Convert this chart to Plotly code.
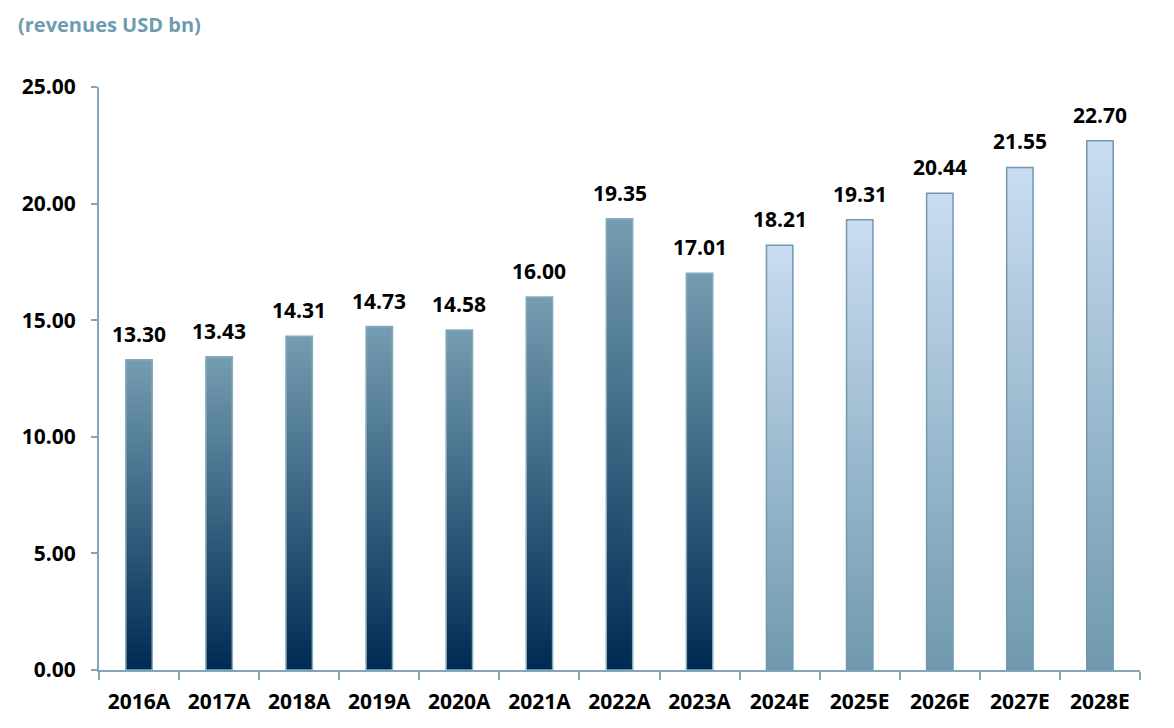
import plotly.graph_objects as go

# revenue per year, actuals then estimates
years = ['2016A', '2017A', '2018A', '2019A', '2020A', '2021A', '2022A',
         '2023A', '2024E', '2025E', '2026E', '2027E', '2028E']
revenues = [13.30, 13.43, 14.31, 14.73, 14.58, 16.00, 19.35,
            17.01, 18.21, 19.31, 20.44, 21.55, 22.70]
y_ticks = [0, 5, 10, 15, 20, 25]

half_w = 0.165
axis_col = '#7fa6b9'

fig = go.Figure()

for i, (yr, val) in enumerate(zip(years, revenues)):
    if yr.endswith('A'):
        scale = [[0, '#002a52'], [1, '#749db1']]
        line_col = '#86abbe'
    else:
        scale = [[0, '#7099ad'], [1, '#c9dcf2']]
        line_col = '#7099ad'
    fig.add_trace(go.Scatter(
        x=[i - half_w, i - half_w, i + half_w, i + half_w, i - half_w],
        y=[0, val, val, 0, 0],
        mode='lines', fill='toself',
        fillgradient=dict(type='vertical', colorscale=scale),
        line=dict(color=line_col, width=1.5),
        hoverinfo='skip', showlegend=False))

# value labels above bars
labels = [dict(x=i, y=v, text=f'<b>{v:.2f}</b>', showarrow=False,
               xanchor='center', yanchor='bottom', yshift=10,
               font=dict(size=21, color='black'))
          for i, v in enumerate(revenues)]

labels.append(dict(text='<b>(revenues USD bn)</b>', xref='paper', yref='paper',
                   x=-0.08, y=1.107, xanchor='left', yanchor='middle',
                   showarrow=False, font=dict(size=20, color='#6f9bb0')))

# note: the page body adds an 8px offset, margins are corrected for that
fig.update_layout(
    width=1174, height=728,
    plot_bgcolor='white', paper_bgcolor='white',
    margin=dict(l=91, r=42, t=79, b=66),
    font=dict(family='Open Sans', size=21, color='black'),
    annotations=labels,
)

fig.update_xaxes(
    range=[-0.5, len(years) - 0.5],
    tickvals=list(range(len(years))), ticktext=[f'<b>{y}</b>' for y in years],
    ticks='', showgrid=False, zeroline=False, automargin=False,
    showline=True, linecolor=axis_col, linewidth=2,
    tickfont=dict(size=21), ticklabelstandoff=12,
    minor=dict(tick0=-0.5, dtick=1, ticks='outside', ticklen=8,
               tickcolor=axis_col, tickwidth=2, showgrid=False),
)
fig.update_yaxes(
    range=[0, 25], tickvals=y_ticks,
    ticktext=[f'<b>{t:.2f}</b>' for t in y_ticks],
    ticks='outside', ticklen=6, tickcolor=axis_col, tickwidth=2,
    showgrid=False, zeroline=False, automargin=False,
    showline=True, linecolor=axis_col, linewidth=2,
    tickfont=dict(size=21), ticklabelstandoff=11,
)

fig.write_html("out.html")
